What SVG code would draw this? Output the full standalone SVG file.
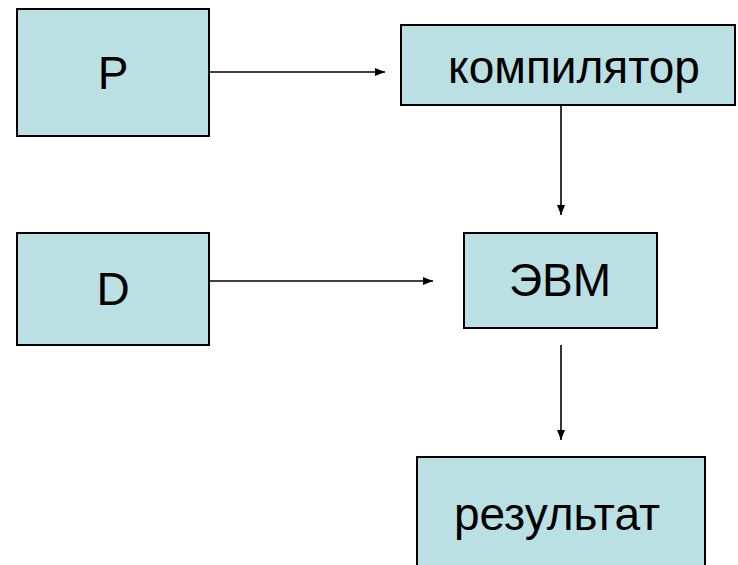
<svg xmlns="http://www.w3.org/2000/svg" width="738" height="565" viewBox="0 0 738 565">
<defs>
<style>
.box{fill:#bbe0e3;stroke:#000;stroke-width:2}
.lbl{font-family:"Liberation Sans",Arial,sans-serif;font-size:46px;fill:#000;text-anchor:middle}
.conn{stroke:#000;stroke-width:1.6;fill:none;marker-end:url(#ah)}
</style>
<marker id="ah" viewBox="0 0 10 8" refX="10" refY="4" markerWidth="10" markerHeight="8" markerUnits="userSpaceOnUse" orient="auto">
<path d="M0,0 L10,4 L0,8 Z" fill="#000"/>
</marker>
</defs>
<rect width="738" height="565" fill="#fff"/>
<g id="node-P"><rect class="box" x="17" y="9" width="192" height="127"/><text class="lbl" x="113" y="89">P</text></g>
<g id="node-compiler"><rect class="box" x="401" y="25" width="334" height="80"/><text class="lbl" x="574" y="83">компилятор</text></g>
<g id="node-D"><rect class="box" x="17" y="233" width="192" height="112"/><text class="lbl" x="113" y="305">D</text></g>
<g id="node-EVM"><rect class="box" x="464" y="233" width="193" height="95"/><text class="lbl" x="560" y="296">ЭВМ</text></g>
<g id="node-result"><rect class="box" x="417" y="457" width="288" height="120"/><text class="lbl" x="557" y="530">результат</text></g>
<g id="connectors">
<line class="conn" x1="210" y1="72" x2="385" y2="72"/>
<line class="conn" x1="561" y1="105" x2="561" y2="215"/>
<line class="conn" x1="210" y1="281" x2="433" y2="281"/>
<line class="conn" x1="561" y1="345" x2="561" y2="440"/>
</g>
</svg>
